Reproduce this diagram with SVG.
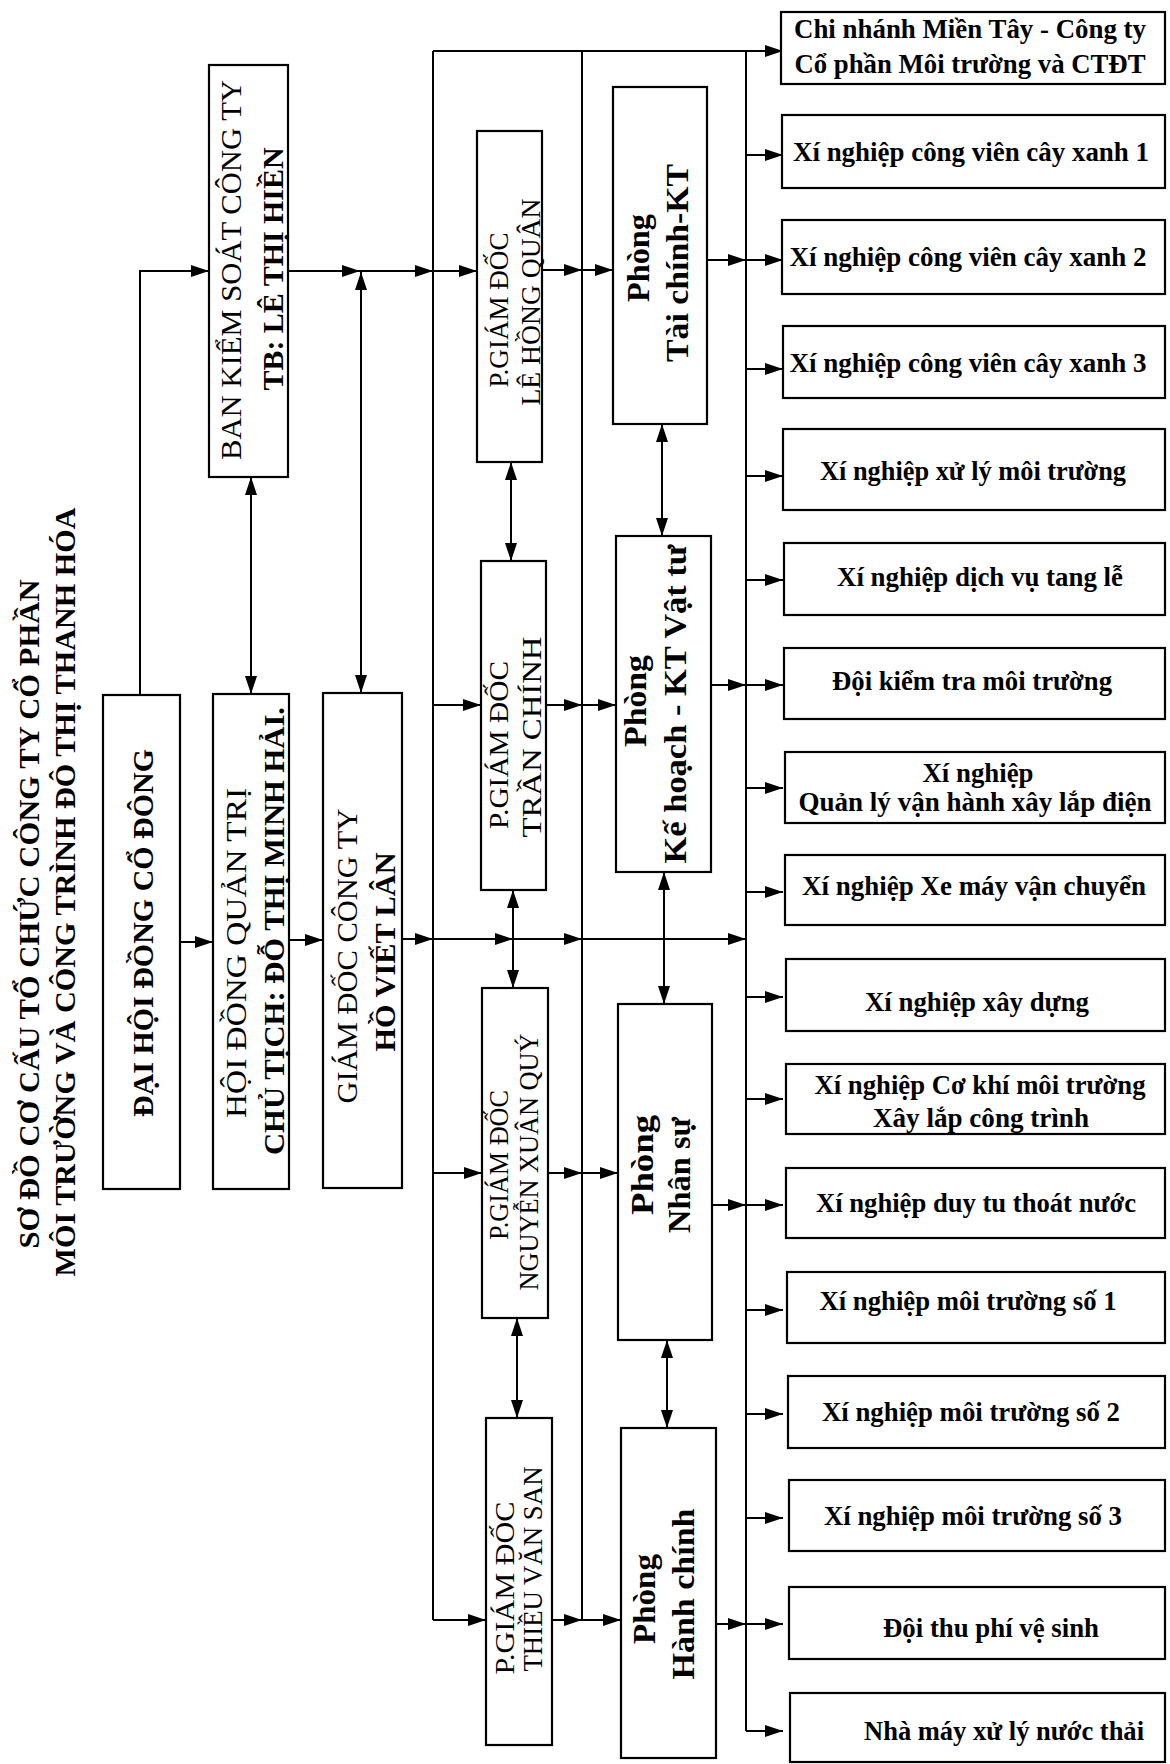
<svg xmlns="http://www.w3.org/2000/svg" width="1170" height="1764" viewBox="0 0 1170 1764">
<style>
  rect { fill: #fff; stroke: #000; stroke-width: 2.2; }
  .c line, .c polyline { stroke: #000; stroke-width: 2; fill: none; }
  .a { marker-end: url(#ah); }
  .d { marker-start: url(#ah); marker-end: url(#ah); }
  text { font-family: "Liberation Serif", "Times New Roman", serif; fill: #000; text-anchor: middle; }
  .r30 { font-size: 30px; }
  .b30 { font-size: 30px; font-weight: bold; }
  .r27 { font-size: 27px; }
  .ph { font-size: 32px; font-weight: bold; }
  .rb { font-size: 27px; font-weight: bold; }
</style>
<defs>
  <marker id="ah" viewBox="0 0 18 12" refX="18" refY="6" markerWidth="18" markerHeight="12" markerUnits="userSpaceOnUse" orient="auto-start-reverse">
    <path d="M0,0 L18,6 L0,12 z" fill="#000"/>
  </marker>
</defs>
<rect x="0" y="0" width="1170" height="1764" style="stroke:none"/>

<!-- Title -->
<g id="title">
  <text class="b30" transform="translate(39,914) rotate(-90)" textLength="669" lengthAdjust="spacingAndGlyphs">SƠ ĐỒ CƠ CẤU TỔ CHỨC CÔNG TY CỔ PHẦN</text>
  <text class="b30" transform="translate(75,892) rotate(-90)" textLength="769" lengthAdjust="spacingAndGlyphs">MÔI TRƯỜNG VÀ CÔNG TRÌNH ĐÔ THỊ THANH HÓA</text>
</g>

<!-- Connectors -->
<g id="connectors" class="c">
  <polyline class="a" points="140,695 140,271 209,271"/>
  <line class="d" x1="251" y1="477" x2="251" y2="694"/>
  <line class="a" x1="288" y1="271" x2="360" y2="271"/>
  <line class="a" x1="360" y1="271" x2="433" y2="271"/>
  <line class="a" x1="433" y1="271" x2="477" y2="271"/>
  <line class="d" x1="361" y1="272" x2="361" y2="693"/>
  <line class="a" x1="180" y1="942" x2="213" y2="942"/>
  <line class="a" x1="289" y1="940" x2="323" y2="940"/>

  <!-- buses -->
  <line x1="433" y1="51" x2="433" y2="1620"/>
  <line x1="582" y1="51" x2="582" y2="1620"/>
  <line x1="746" y1="51" x2="746" y2="1731"/>
  <line class="a" x1="433" y1="51" x2="783" y2="51"/>

  <!-- LHQ row -->
  <line class="a" x1="542" y1="270" x2="582" y2="270"/>
  <line class="a" x1="582" y1="270" x2="613" y2="270"/>
  <!-- TC row -->
  <line class="a" x1="433" y1="705" x2="481" y2="705"/>
  <line class="a" x1="546" y1="705" x2="582" y2="705"/>
  <line class="a" x1="582" y1="705" x2="616" y2="705"/>
  <!-- GD row -->
  <line class="a" x1="402" y1="939" x2="433" y2="939"/>
  <line class="a" x1="433" y1="939" x2="513" y2="939"/>
  <line class="a" x1="513" y1="939" x2="582" y2="939"/>
  <line class="a" x1="582" y1="939" x2="746" y2="939"/>
  <!-- NXQ row -->
  <line class="a" x1="433" y1="1173" x2="482" y2="1173"/>
  <line class="a" x1="548" y1="1173" x2="582" y2="1173"/>
  <line class="a" x1="582" y1="1173" x2="618" y2="1173"/>
  <!-- TVS row -->
  <line class="a" x1="433" y1="1620" x2="486" y2="1620"/>
  <line class="a" x1="552" y1="1620" x2="582" y2="1620"/>
  <line class="a" x1="582" y1="1620" x2="621" y2="1620"/>

  <!-- double arrows between stacked boxes -->
  <line class="d" x1="511" y1="462" x2="511" y2="561"/>
  <line class="d" x1="513" y1="890" x2="513" y2="988"/>
  <line class="d" x1="517" y1="1318" x2="517" y2="1418"/>
  <line class="d" x1="662" y1="424" x2="662" y2="536"/>
  <line class="d" x1="664" y1="872" x2="664" y2="1004"/>
  <line class="d" x1="667" y1="1340" x2="667" y2="1428"/>

  <!-- departments to bus 3 -->
  <line class="a" x1="707" y1="260" x2="746" y2="260"/>
  <line class="a" x1="711" y1="685" x2="746" y2="685"/>
  <line class="a" x1="712" y1="1205" x2="746" y2="1205"/>
  <line class="a" x1="716" y1="1624" x2="746" y2="1624"/>

  <!-- bus 3 to right boxes -->
  <line class="a" x1="746" y1="155" x2="783" y2="155"/>
  <line class="a" x1="746" y1="260" x2="783" y2="260"/>
  <line class="a" x1="746" y1="369" x2="783" y2="369"/>
  <line class="a" x1="746" y1="476" x2="783" y2="476"/>
  <line class="a" x1="746" y1="580" x2="783" y2="580"/>
  <line class="a" x1="746" y1="685" x2="783" y2="685"/>
  <line class="a" x1="746" y1="788" x2="783" y2="788"/>
  <line class="a" x1="746" y1="892" x2="783" y2="892"/>
  <line class="a" x1="746" y1="997" x2="783" y2="997"/>
  <line class="a" x1="746" y1="1099" x2="783" y2="1099"/>
  <line class="a" x1="746" y1="1205" x2="783" y2="1205"/>
  <line class="a" x1="746" y1="1310" x2="783" y2="1310"/>
  <line class="a" x1="746" y1="1414" x2="783" y2="1414"/>
  <line class="a" x1="746" y1="1518" x2="783" y2="1518"/>
  <line class="a" x1="746" y1="1624" x2="783" y2="1624"/>
  <line class="a" x1="746" y1="1731" x2="783" y2="1731"/>
</g>

<!-- Left column -->
<g id="n-dhdcd">
  <rect x="103" y="695" width="77" height="494"/>
  <text class="b30" transform="translate(153,933) rotate(-90)" textLength="368" lengthAdjust="spacingAndGlyphs">ĐẠI HỘI ĐỒNG CỔ ĐÔNG</text>
</g>
<g id="n-hdqt">
  <rect x="213" y="694" width="76" height="495"/>
  <text class="r30" transform="translate(246,953) rotate(-90)" textLength="330" lengthAdjust="spacingAndGlyphs">HỘI ĐỒNG QUẢN TRỊ</text>
  <text class="b30" transform="translate(284,931) rotate(-90)" textLength="448" lengthAdjust="spacingAndGlyphs">CHỦ TỊCH: ĐỖ THỊ MINH HẢI.</text>
</g>
<g id="n-gd">
  <rect x="323" y="693" width="79" height="495"/>
  <text class="r30" transform="translate(357,956) rotate(-90)" textLength="295" lengthAdjust="spacingAndGlyphs">GIÁM ĐỐC CÔNG TY</text>
  <text class="b30" transform="translate(395,952) rotate(-90)" textLength="199" lengthAdjust="spacingAndGlyphs">HỒ VIẾT LÂN</text>
</g>
<g id="n-bks">
  <rect x="209" y="65" width="79" height="412"/>
  <text class="r30" transform="translate(241,270) rotate(-90)" textLength="380" lengthAdjust="spacingAndGlyphs">BAN KIỂM SOÁT CÔNG TY</text>
  <text class="b30" transform="translate(283,269) rotate(-90)" textLength="243" lengthAdjust="spacingAndGlyphs">TB: LÊ THỊ HIỀN</text>
</g>

<!-- Deputy directors -->
<g id="n-pgd-lhq">
  <rect x="477" y="131" width="65" height="331"/>
  <text class="r27" transform="translate(508,310) rotate(-90)" textLength="155" lengthAdjust="spacingAndGlyphs">P.GIÁM ĐỐC</text>
  <text class="r27" transform="translate(540,302) rotate(-90)" textLength="207" lengthAdjust="spacingAndGlyphs">LÊ HỒNG QUÂN</text>
</g>
<g id="n-pgd-tc">
  <rect x="481" y="561" width="65" height="329"/>
  <text class="r27" transform="translate(508,745) rotate(-90)" textLength="168" lengthAdjust="spacingAndGlyphs">P.GIÁM ĐỐC</text>
  <text class="r27" transform="translate(541,737) rotate(-90)" textLength="201" lengthAdjust="spacingAndGlyphs">TRẦN CHÍNH</text>
</g>
<g id="n-pgd-nxq">
  <rect x="482" y="988" width="66" height="330"/>
  <text class="r27" transform="translate(508,1165) rotate(-90)" textLength="150" lengthAdjust="spacingAndGlyphs">P.GIÁM ĐỐC</text>
  <text class="r27" transform="translate(538,1162) rotate(-90)" textLength="257" lengthAdjust="spacingAndGlyphs">NGUYỄN XUÂN QUÝ</text>
</g>
<g id="n-pgd-tvs">
  <rect x="486" y="1418" width="66" height="327"/>
  <text class="r27" transform="translate(514,1588) rotate(-90)" textLength="173" lengthAdjust="spacingAndGlyphs">P.GIÁM ĐỐC</text>
  <text class="r27" transform="translate(542,1569) rotate(-90)" textLength="205" lengthAdjust="spacingAndGlyphs">THIỀU VĂN SAN</text>
</g>

<!-- Departments -->
<g id="n-p-tckt">
  <rect x="613" y="87" width="94" height="337"/>
  <text class="ph" transform="translate(649,258) rotate(-90)" textLength="88" lengthAdjust="spacingAndGlyphs">Phòng</text>
  <text class="ph" transform="translate(688,263) rotate(-90)" textLength="198" lengthAdjust="spacingAndGlyphs">Tài chính-KT</text>
</g>
<g id="n-p-khkt">
  <rect x="616" y="536" width="95" height="336"/>
  <text class="ph" transform="translate(646,701) rotate(-90)" textLength="92" lengthAdjust="spacingAndGlyphs">Phòng</text>
  <text class="ph" transform="translate(686,704) rotate(-90)" textLength="319" lengthAdjust="spacingAndGlyphs">Kế hoạch - KT Vật tư</text>
</g>
<g id="n-p-ns">
  <rect x="618" y="1004" width="94" height="336"/>
  <text class="ph" transform="translate(653,1165) rotate(-90)" textLength="100" lengthAdjust="spacingAndGlyphs">Phòng</text>
  <text class="ph" transform="translate(690,1175) rotate(-90)" textLength="116" lengthAdjust="spacingAndGlyphs">Nhân sự</text>
</g>
<g id="n-p-hc">
  <rect x="621" y="1428" width="95" height="330"/>
  <text class="ph" transform="translate(655,1599) rotate(-90)" textLength="90" lengthAdjust="spacingAndGlyphs">Phòng</text>
  <text class="ph" transform="translate(694,1594) rotate(-90)" textLength="171" lengthAdjust="spacingAndGlyphs">Hành chính</text>
</g>

<!-- Right column units -->
<g id="n-u00">
  <rect x="781" y="12" width="384" height="72"/>
  <text class="rb" x="970" y="38" textLength="352" lengthAdjust="spacingAndGlyphs">Chi nhánh Miền Tây - Công ty</text>
  <text class="rb" x="970" y="73" textLength="351" lengthAdjust="spacingAndGlyphs">Cổ phần Môi trường và CTĐT</text>
</g>
<g id="n-u01">
  <rect x="782" y="115" width="383" height="73"/>
  <text class="rb" x="971" y="161" textLength="356" lengthAdjust="spacingAndGlyphs">Xí nghiệp công viên cây xanh 1</text>
</g>
<g id="n-u02">
  <rect x="782" y="220" width="383" height="74"/>
  <text class="rb" x="968" y="266" textLength="357" lengthAdjust="spacingAndGlyphs">Xí nghiệp công viên cây xanh 2</text>
</g>
<g id="n-u03">
  <rect x="783" y="326" width="382" height="72"/>
  <text class="rb" x="968" y="372" textLength="357" lengthAdjust="spacingAndGlyphs">Xí nghiệp công viên cây xanh 3</text>
</g>
<g id="n-u04">
  <rect x="783" y="429" width="382" height="81"/>
  <text class="rb" x="973" y="480" textLength="306" lengthAdjust="spacingAndGlyphs">Xí nghiệp xử lý môi trường</text>
</g>
<g id="n-u05">
  <rect x="784" y="543" width="381" height="72"/>
  <text class="rb" x="980" y="586" textLength="286" lengthAdjust="spacingAndGlyphs">Xí nghiệp dịch vụ tang lễ</text>
</g>
<g id="n-u06">
  <rect x="784" y="648" width="381" height="71"/>
  <text class="rb" x="972" y="690" textLength="280" lengthAdjust="spacingAndGlyphs">Đội kiểm tra môi trường</text>
</g>
<g id="n-u07">
  <rect x="785" y="752" width="380" height="71"/>
  <text class="rb" x="978" y="782" textLength="111" lengthAdjust="spacingAndGlyphs">Xí nghiệp</text>
  <text class="rb" x="975" y="811" textLength="353" lengthAdjust="spacingAndGlyphs">Quản lý vận hành xây lắp điện</text>
</g>
<g id="n-u08">
  <rect x="785" y="855" width="380" height="70"/>
  <text class="rb" x="974" y="895" textLength="344" lengthAdjust="spacingAndGlyphs">Xí nghiệp Xe máy vận chuyển</text>
</g>
<g id="n-u09">
  <rect x="786" y="959" width="379" height="72"/>
  <text class="rb" x="977" y="1011" textLength="224" lengthAdjust="spacingAndGlyphs">Xí nghiệp xây dựng</text>
</g>
<g id="n-u10">
  <rect x="786" y="1064" width="379" height="70"/>
  <text class="rb" x="980" y="1094" textLength="331" lengthAdjust="spacingAndGlyphs">Xí nghiệp Cơ khí môi trường</text>
  <text class="rb" x="981" y="1127" textLength="216" lengthAdjust="spacingAndGlyphs">Xây lắp công trình</text>
</g>
<g id="n-u11">
  <rect x="786" y="1168" width="379" height="70"/>
  <text class="rb" x="976" y="1212" textLength="320" lengthAdjust="spacingAndGlyphs">Xí nghiệp duy tu thoát nước</text>
</g>
<g id="n-u12">
  <rect x="787" y="1272" width="378" height="71"/>
  <text class="rb" x="968" y="1310" textLength="297" lengthAdjust="spacingAndGlyphs">Xí nghiệp môi trường số 1</text>
</g>
<g id="n-u13">
  <rect x="788" y="1376" width="377" height="72"/>
  <text class="rb" x="971" y="1421" textLength="298" lengthAdjust="spacingAndGlyphs">Xí nghiệp môi trường số 2</text>
</g>
<g id="n-u14">
  <rect x="789" y="1480" width="376" height="71"/>
  <text class="rb" x="973" y="1525" textLength="298" lengthAdjust="spacingAndGlyphs">Xí nghiệp môi trường số 3</text>
</g>
<g id="n-u15">
  <rect x="789" y="1587" width="376" height="72"/>
  <text class="rb" x="991" y="1637" textLength="216" lengthAdjust="spacingAndGlyphs">Đội thu phí vệ sinh</text>
</g>
<g id="n-u16">
  <rect x="790" y="1693" width="375" height="69"/>
  <text class="rb" x="1004" y="1740" textLength="280" lengthAdjust="spacingAndGlyphs">Nhà máy xử lý nước thải</text>
</g>
</svg>
